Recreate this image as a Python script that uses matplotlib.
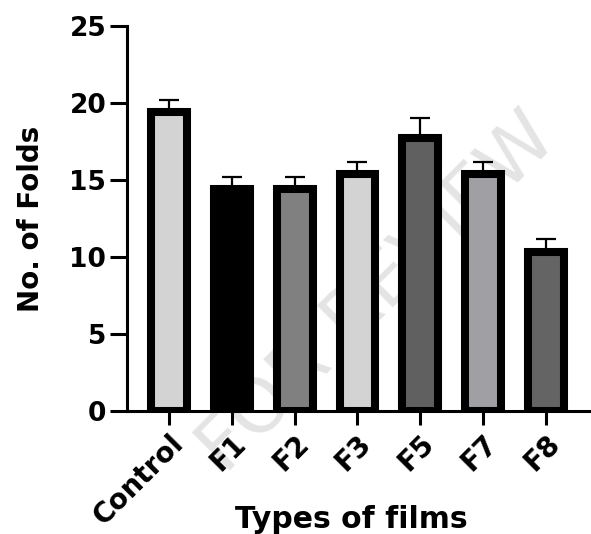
import matplotlib
matplotlib.use("Agg")
import matplotlib.pyplot as plt

# bar data
films = ["Control", "F1", "F2", "F3", "F5", "F7", "F8"]
folds = [19.4, 14.4, 14.4, 15.4, 17.7, 15.4, 10.3]
sd = [0.8, 0.8, 0.8, 0.8, 1.3, 0.8, 0.9]
fills = ["#d3d3d3", "#000000", "#808080", "#d3d3d3", "#606060", "#a0a0a4", "#646464"]
y_ticks = [0, 5, 10, 15, 20, 25]

plt.rcParams["font.family"] = ["DejaVu Sans"]
plt.rcParams["font.weight"] = "bold"

fig = plt.figure(figsize=(5.91, 5.34), dpi=100)
ax = fig.add_axes([127 / 591, 123 / 534, 1 - 127 / 591, 385 / 534])

x = list(range(len(films)))
ax.bar(x, folds, width=0.57, color=fills, edgecolor="black", linewidth=5.8, zorder=2)
ax.errorbar(x, folds, yerr=[[0] * len(sd), sd], fmt="none", ecolor="black",
            elinewidth=1.6, capsize=7.5, capthick=1.6, zorder=1)

# faint watermark behind the bars
ax.text(0.64, 0.45, "FOR REVIEW", transform=fig.transFigure, rotation=45,
        fontsize=54, color="#e4e4e4", ha="center", va="center", zorder=0,
        fontweight="normal", clip_on=False)

ax.set_xlim(-0.67, 6.72)
ax.set_ylim(0, 25)
ax.set_yticks(y_ticks)
ax.set_xticks(x)
ax.set_xticklabels(films, rotation=45, ha="right", rotation_mode="anchor")

for s in ["top", "right"]:
    ax.spines[s].set_visible(False)
for s in ["left", "bottom"]:
    ax.spines[s].set_linewidth(2.2)
ax.spines["left"].set_bounds(0, 25)

ax.tick_params(axis="y", length=12, width=2.2, labelsize=19, pad=3)
ax.tick_params(axis="x", length=10, width=2.2, labelsize=20, pad=3)

ax.set_ylabel("No. of Folds", fontsize=20, fontweight="bold")
ax.yaxis.set_label_coords(-0.177, 0.5)
ax.set_xlabel("Types of films", fontsize=21.5, fontweight="bold")
ax.xaxis.set_label_coords(0.483, -0.243)

fig.savefig("out.png", dpi=100)
